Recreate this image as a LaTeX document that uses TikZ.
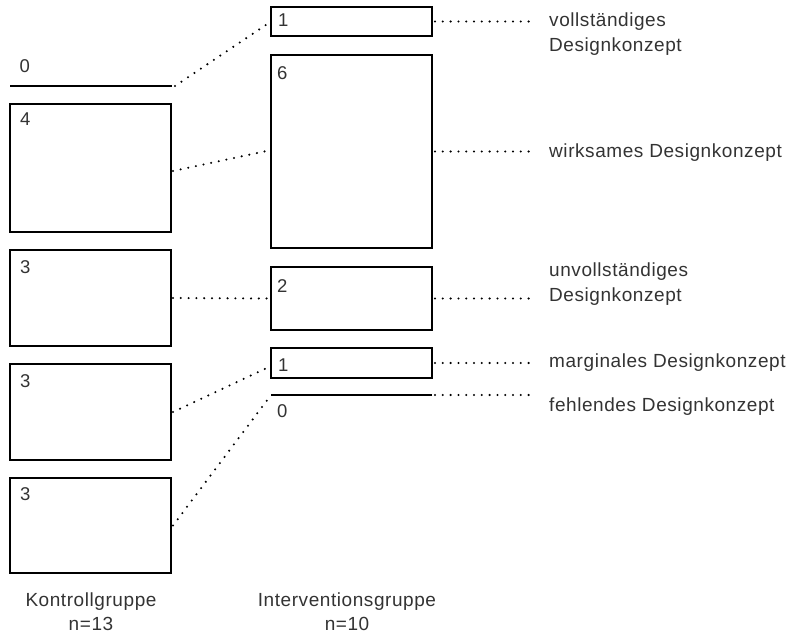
\documentclass[tikz,border=0pt]{standalone}
\usepackage{fontspec}
\setmainfont{Liberation Sans}[LetterSpace=3]
\definecolor{txt}{HTML}{333333}
\begin{document}
\begin{tikzpicture}[x=1pt,y=-1pt,
  box/.style={draw=black,line width=2pt,anchor=north west,inner sep=0pt,outer sep=0pt,minimum width=161pt},
  bar/.style={line width=2pt},
  dots/.style={line width=2.3pt,line cap=round,dash pattern=on 0pt off 7.8pt},
  num/.style={anchor=base west,inner sep=0pt,text=txt,font=\fontsize{18.5}{22}\selectfont},
  lbl/.style={anchor=base west,inner sep=0pt,align=left,text=txt,font=\fontsize{19}{25}\selectfont},
  grp/.style={anchor=base,inner sep=0pt,align=center,text=txt,font=\fontsize{19}{24}\selectfont}]
\useasboundingbox (0,0) rectangle (792,642);

% Kontrollgruppe
\coordinate (k0l) at (10,86);
\coordinate (k0r) at (172,86);
\draw[bar] (k0l) -- (k0r);
\node[box,minimum height=128pt] (k4) at (10,104) {};
\node[box,minimum height=96pt] (k3a) at (10,250) {};
\node[box,minimum height=96pt] (k3b) at (10,364) {};
\node[box,minimum height=95pt] (k3c) at (10,478) {};

\node[num] (nk0) at (19.5,72) {0};
\node[num] (nk4) at (20,125) {4};
\node[num] (nk3a) at (20,273) {3};
\node[num] (nk3b) at (20,387) {3};
\node[num] (nk3c) at (20,500) {3};

% Interventionsgruppe
\node[box,minimum height=29pt] (i1) at (271,7) {};
\node[box,minimum height=193pt] (i6) at (271,55) {};
\node[box,minimum height=63pt] (i2) at (271,267) {};
\node[box,minimum height=30pt] (i1b) at (271,348) {};
\coordinate (i0l) at (271,395);
\coordinate (i0r) at (432,395);
\draw[bar] (i0l) -- (i0r);

\node[num] (ni1) at (278,27) {1};
\node[num] (ni6) at (277,80) {6};
\node[num] (ni2) at (277,292) {2};
\node[num] (ni1b) at (278,371) {1};
\node[num] (ni0) at (277,417) {0};

% transitions between the groups
\draw[dots] ([xshift=3pt]k0r) -- (i1.west);
\draw[dots] ([shift={(2pt,-3pt)}]k4.east) -- ([yshift=1.5pt]i6.west);
\draw[dots] ([xshift=2pt]k3a.east) -- (i2.west);
\draw[dots] ([xshift=2pt]k3b.east) -- ([yshift=-3pt]i1b.west);
\draw[dots] ([xshift=2pt]k3c.east) -- (i0l);

% leaders to the category labels
\coordinate (r1) at (530,21.5);
\coordinate (r6) at (530,151.5);
\coordinate (r2) at (530,298.5);
\coordinate (r1b) at (530,363);
\coordinate (r0) at (530,395);
\draw[dots] ([xshift=3pt]i1.east) -- (r1);
\draw[dots] ([xshift=3pt]i6.east) -- (r6);
\draw[dots] ([xshift=3pt]i2.east) -- (r2);
\draw[dots] ([xshift=3pt]i1b.east) -- (r1b);
\draw[dots] ([xshift=3pt]i0r) -- (r0);

% category labels (multi-line nodes sit on the baseline of their last line)
\node[lbl] (c1) at (549,52) {vollständiges\\Designkonzept};
\node[lbl] (c6) at (549,157) {wirksames Designkonzept};
\node[lbl] (c2) at (549,301) {unvollständiges\\Designkonzept};
\node[lbl] (c1b) at (549,367) {marginales Designkonzept};
\node[lbl] (c0) at (549,411) {fehlendes Designkonzept};

% group captions
\node[grp] (gk) at (91,630) {Kontrollgruppe\\n=13};
\node[grp] (gi) at (347,630) {Interventionsgruppe\\n=10};
\end{tikzpicture}
\end{document}
